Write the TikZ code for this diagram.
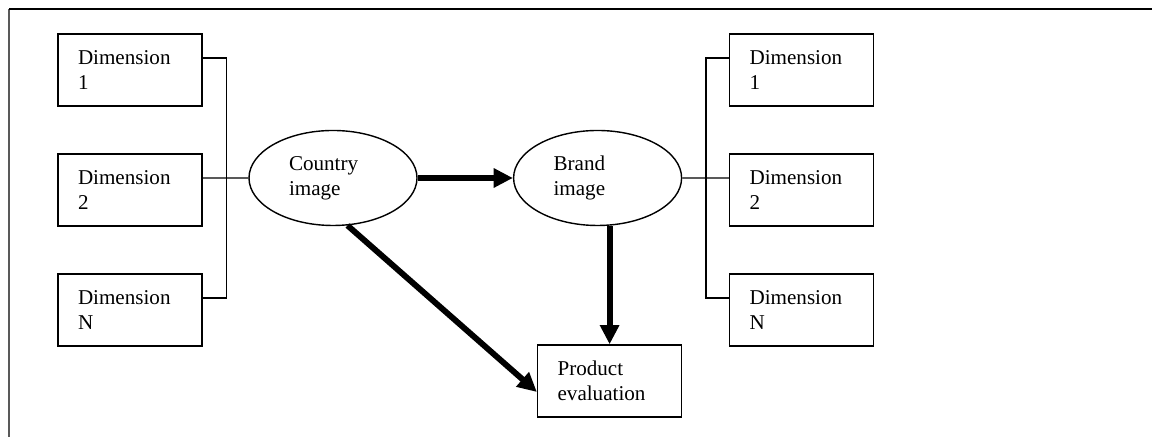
\documentclass[tikz,border=0pt]{standalone}
\usepackage{fontspec}
\setmainfont{Liberation Serif}
\usepackage{tikz}
\usetikzlibrary{arrows.meta,positioning,shapes.geometric,calc}

\begin{document}
\begin{tikzpicture}[x=1cm,y=1cm,
    txt/.style={font=\fontsize{15}{17.8}\selectfont,align=left},
    dimbox/.style={txt,draw,line width=1pt,minimum width=3.6cm,minimum height=1.8cm,
      inner xsep=0.5cm,text width=2.6cm},
    imgoval/.style={txt,draw,ellipse,line width=1pt,minimum width=4.2cm,minimum height=2.375cm,
      inner sep=0pt,text width=2.2cm},
    link/.style={line width=1pt},
    bigarrow/.style={line width=4.2pt,-{Triangle[length=4.8mm,width=4.6mm]}}]
  \useasboundingbox (0,0) rectangle (28.8,10.925);
  % frame (top and left edge only)
  \draw[gray!70!black,line width=1pt] (0.225,0) -- (0.225,10.7);
  \draw[line width=0.8pt] (0.225,10.7) -- (28.8,10.7);
  % dimensions of the country image
  \node[dimbox] (dl1) at (3.25,9.175) {Dimension\\1};
  \node[dimbox] (dl2) at (3.25,6.175) {Dimension\\2};
  \node[dimbox] (dlN) at (3.25,3.175) {Dimension\\N};
  % the two images
  \node[imgoval] (country) at (8.325,6.475) {Country\\image};
  \node[imgoval] (brand) at (14.94,6.475) {Brand\\image};
  % dimensions of the brand image
  \node[dimbox] (dr1) at (20.04,9.175) {Dimension\\1};
  \node[dimbox] (dr2) at (20.04,6.175) {Dimension\\2};
  \node[dimbox] (drN) at (20.04,3.175) {Dimension\\N};
  % outcome
  \node[dimbox] (product) at (15.24,1.4) {Product\\evaluation};
  % bus lines
  \draw[link] ([yshift=3mm]dl1.east) -- ++(0.6,0) |- ([yshift=3mm]dlN.east);
  \draw[link] ([yshift=3mm]dl2.east) -- (country.west);
  \draw[link] ([yshift=3mm]dr1.west) -- ++(-0.575,0) |- ([yshift=3mm]drN.west);
  \draw[link] (brand.east) -- ([yshift=3mm]dr2.west);
  % effects
  \draw[bigarrow] (country.east) -- (brand.west);
  \draw[bigarrow] (product.north |- brand.south) -- (product.north);
  \draw[bigarrow] (country.-73) -- ([yshift=-2.75mm]product.west);
\end{tikzpicture}
\end{document}
